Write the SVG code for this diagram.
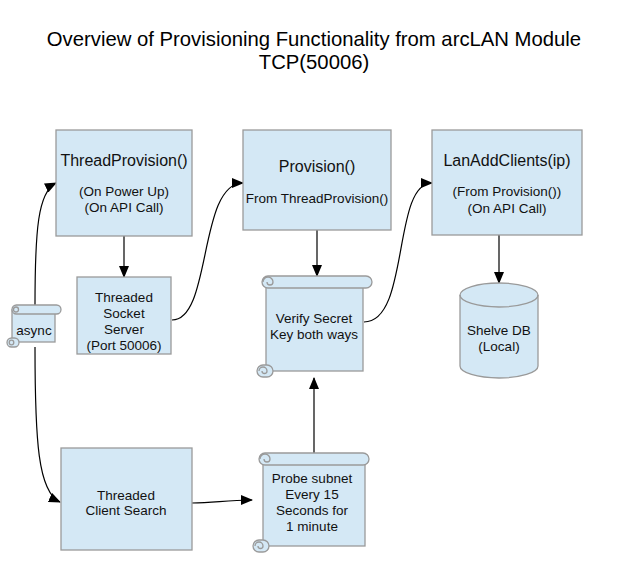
<svg xmlns="http://www.w3.org/2000/svg" width="619" height="584" viewBox="0 0 619 584">
<style>
.box{fill:#d4e8f5;stroke:#9a9a9a;stroke-width:1.3}
.t{font-family:"Liberation Sans",Arial,sans-serif;font-size:13.5px;fill:#111;text-anchor:middle}
.h{font-size:16px}
.s{font-size:13.5px}
.title{font-family:"Liberation Sans",Arial,sans-serif;font-size:20.3px;fill:#000;text-anchor:middle}
.c{fill:none;stroke:#000;stroke-width:1.2}
</style>
<defs>
<marker id="ah" markerWidth="12" markerHeight="10" refX="11" refY="5" orient="auto" markerUnits="userSpaceOnUse">
<path d="M0,0 L12,5 L0,10 Z" fill="#000"/>
</marker>
</defs>
<text class="title" x="314" y="46">Overview of Provisioning Functionality from arcLAN Module</text>
<text class="title" x="314" y="69">TCP(50006)</text>

<g id="connectors">
<path class="c" d="M124,236 L124,277" marker-end="url(#ah)"/>
<path class="c" d="M317,230 L317,276" marker-end="url(#ah)"/>
<path class="c" d="M499,235 L499,283" marker-end="url(#ah)"/>
<path class="c" d="M314,453 L314,378" marker-end="url(#ah)"/>
<path class="c" d="M172,320 C212,320 198,183 243,183" marker-end="url(#ah)"/>
<path class="c" d="M364,322 C410,322 392,183 432,183" marker-end="url(#ah)"/>
<path class="c" d="M35,305 C35,230 38,192 56,183" marker-end="url(#ah)"/>
<path class="c" d="M35,347 C35,440 38,492 60,502" marker-end="url(#ah)"/>
<path class="c" d="M192,503 C215,503 225,500 252,500" marker-end="url(#ah)"/>
</g>

<g id="threadprovision">
<rect class="box" x="56" y="130" width="136" height="106"/>
<text class="t h" x="124" y="166">ThreadProvision()</text>
<text class="t s" x="124" y="196">(On Power Up)</text>
<text class="t s" x="124" y="212">(On API Call)</text>
</g>

<g id="provision">
<rect class="box" x="243" y="130" width="148" height="100"/>
<text class="t h" x="317" y="172">Provision()</text>
<text class="t s" x="317" y="203">From ThreadProvision()</text>
</g>

<g id="lanaddclients">
<rect class="box" x="432" y="130" width="150" height="105"/>
<text class="t h" x="507" y="166">LanAddClients(ip)</text>
<text class="t s" x="507" y="196">(From Provision())</text>
<text class="t s" x="507" y="213">(On API Call)</text>
</g>

<g id="socketserver">
<rect class="box" x="77" y="277" width="94" height="77"/>
<text class="t" x="124" y="302">Threaded</text>
<text class="t" x="124" y="318">Socket</text>
<text class="t" x="124" y="334">Server</text>
<text class="t" x="124" y="350">(Port 50006)</text>
</g>

<g id="clientsearch">
<rect class="box" x="61" y="448" width="131" height="102"/>
<text class="t" x="126" y="500">Threaded</text>
<text class="t" x="126" y="515">Client Search</text>
</g>

<g id="async">
<rect class="box" x="12" y="310" width="43" height="32"/>
<rect class="box" x="12" y="305" width="49" height="9" rx="4.5"/>
<circle class="box" cx="16" cy="309.5" r="2.5"/>
<rect class="box" x="7" y="338" width="12" height="9" rx="4.5"/>
<circle class="box" cx="11.5" cy="342.5" r="2.3"/>
<text class="t" x="34" y="335">async</text>
</g>

<g id="verify">
<rect class="box" x="266" y="282" width="97" height="89"/>
<rect class="box" x="262" y="276" width="110" height="12" rx="6"/>
<path class="box" d="M268,282 m-5,0 a5,5 0 1 1 10,0 a3,3 0 1 1 -6,0"/>
<rect class="box" x="257" y="365" width="16" height="12" rx="6"/>
<path class="box" d="M263,371 m-4,0 a4,4 0 1 1 8,0 a2.5,2.5 0 1 1 -5,0"/>
<text class="t" x="314" y="323">Verify Secret</text>
<text class="t" x="314" y="339">Key both ways</text>
</g>

<g id="probe">
<rect class="box" x="263" y="459" width="102" height="87"/>
<rect class="box" x="259" y="453" width="110" height="12" rx="6"/>
<path class="box" d="M265,459 m-5,0 a5,5 0 1 1 10,0 a3,3 0 1 1 -6,0"/>
<rect class="box" x="253" y="540" width="16" height="12" rx="6"/>
<path class="box" d="M259,546 m-4,0 a4,4 0 1 1 8,0 a2.5,2.5 0 1 1 -5,0"/>
<text class="t" x="312" y="483">Probe subnet</text>
<text class="t" x="312" y="499">Every 15</text>
<text class="t" x="312" y="515">Seconds for</text>
<text class="t" x="312" y="531">1 minute</text>
</g>

<g id="shelvedb">
<path class="box" d="M460,295 A39,12 0 0 1 538,295 V366 A39,12 0 0 1 460,366 Z"/>
<path class="box" style="fill:none" d="M460,295 A39,12 0 0 0 538,295"/>
<text class="t" x="499" y="335">Shelve DB</text>
<text class="t" x="499" y="351">(Local)</text>
</g>
</svg>
